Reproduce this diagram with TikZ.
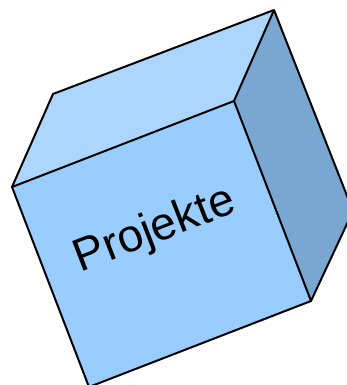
\documentclass[tikz,border=0pt]{standalone}
\usepackage{fontspec}
\setmainfont{Liberation Sans}
\definecolor{topblue}{RGB}{173,214,255}
\definecolor{frontblue}{RGB}{153,204,255}
\definecolor{sideblue}{RGB}{122,166,210}
\begin{document}
\begin{tikzpicture}[
  x=1pt, y=-1pt,
  face/.style={draw=black, line width=2pt, line join=round},
  label/.style={font=\fontsize{46}{55}\selectfont, rotate=21.2}
]
  \useasboundingbox (0,0) rectangle (347,385);
  \clip (0,0) rectangle (347,385);
  \coordinate (ftl) at (12,187);
  \coordinate (ftr) at (234,101);
  \coordinate (fbr) at (311,301);
  \coordinate (fbl) at (89,387);
  \coordinate (btl) at (53,94);
  \coordinate (btr) at (274,10);
  \coordinate (bbr) at (353,211);

  \fill[topblue]   (ftl) -- (btl) -- (btr) -- (ftr) -- cycle;
  \fill[sideblue]  (ftr) -- (btr) -- (bbr) -- (fbr) -- cycle;
  \fill[frontblue] (ftl) -- (ftr) -- (fbr) -- (fbl) -- cycle;
  \draw[face] (ftl) -- (btl) -- (btr) -- (bbr) -- (fbr) -- (fbl) -- cycle;
  \draw[face] (ftl) -- (ftr) -- (fbr);
  \draw[face] (ftr) -- (btr);

  \node[label] (title) at (155,231) {Projekte};
\end{tikzpicture}
\end{document}
